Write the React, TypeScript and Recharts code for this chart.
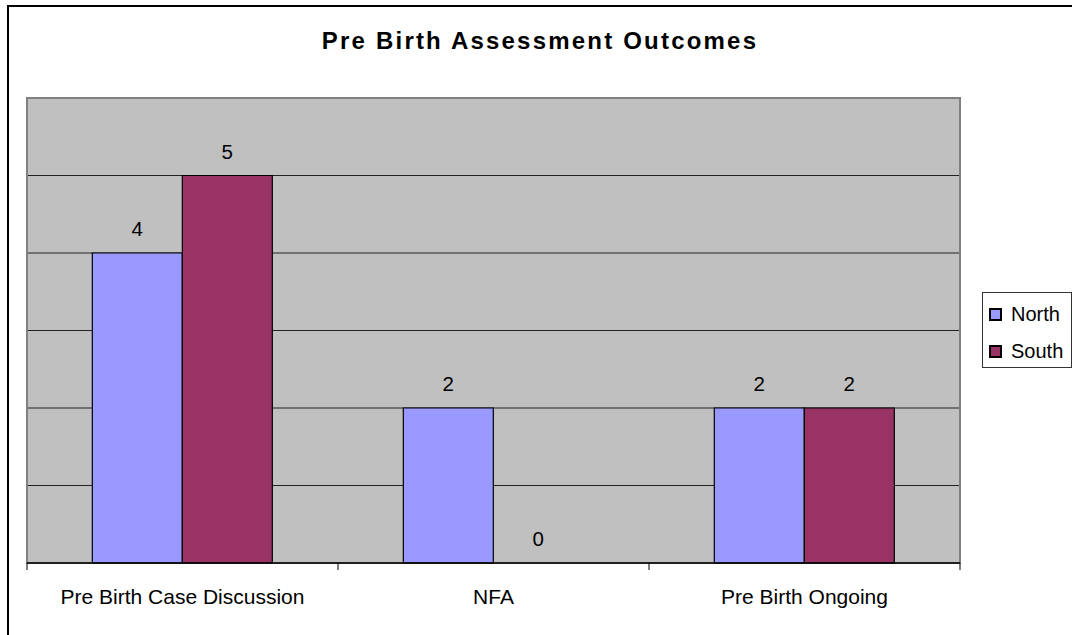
import React from "react";
import { BarChart, Bar, XAxis, YAxis, CartesianGrid, ReferenceArea, Rectangle } from "recharts";

const categories = ["Pre Birth Case Discussion", "NFA", "Pre Birth Ongoing"];
const northValues = [4, 2, 2];
const southValues = [5, 0, 2];
const yTicks = [0, 1, 2, 3, 4, 5, 6];
const seriesNames = ["North", "South"];
const seriesColors = ["#9999FF", "#993366"];
const title = "Pre Birth Assessment Outcomes";

const data = categories.map((c, i) => ({ name: c, North: northValues[i], South: southValues[i] }));

const FONT = "Arial, 'Liberation Sans', sans-serif";

const CategoryTick = (props: any) => {
  const { x, y, payload, index, visibleTicksCount } = props;
  const half = payload && payload.offset ? payload.offset : 155.5;
  const left = x - half;
  const right = x + half;
  return (
    <g>
      <line x1={left} x2={left} y1={y - 7} y2={y} stroke="#000" strokeWidth={1} />
      {index === visibleTicksCount - 1 && (
        <line x1={right} x2={right} y1={y - 7} y2={y} stroke="#000" strokeWidth={1} />
      )}
      <text x={x} y={y + 34} textAnchor="middle" fontFamily={FONT} fontSize={21} fill="#000">
        {payload.value}
      </text>
    </g>
  );
};

const BarWithLabel = (props: any) => {
  const { x, y, width, height, value, fill } = props;
  const v = Array.isArray(value) ? value[1] - value[0] : value;
  return (
    <g>
      {height > 0 && (
        <Rectangle x={x} y={y} width={width} height={height} fill={fill} stroke="#000" strokeWidth={1.2} />
      )}
      <text x={x + width / 2} y={y - 17} textAnchor="middle" fontFamily={FONT} fontSize={20.5} fill="#000">
        {String(v)}
      </text>
    </g>
  );
};

const LegendBox = () => (
  <div
    style={{
      position: "absolute",
      left: 982,
      top: 292,
      width: 90,
      height: 76,
      border: "1px solid #333",
      background: "#fff",
      boxSizing: "border-box",
      fontFamily: FONT,
      fontSize: 20,
      color: "#000",
    }}
  >
    {seriesNames.map((n, i) => (
      <div key={n} style={{ position: "absolute", left: 6, top: i === 0 ? 10 : 47, height: 22, display: "flex", alignItems: "center" }}>
        <div style={{ width: 13, height: 13, background: seriesColors[i], border: "2px solid #000", boxSizing: "border-box", marginRight: 9 }} />
        <span style={{ lineHeight: "22px" }}>{n}</span>
      </div>
    ))}
  </div>
);

export default function App() {
  return (
    <div style={{ position: "absolute", left: 0, top: 0, width: 1072, height: 635, overflow: "hidden", background: "#fff" }}>
      <div
        style={{
          position: "absolute",
          left: 7,
          top: 5,
          width: 1200,
          height: 800,
          borderLeft: "2px solid #000",
          borderTop: "2px solid #000",
        }}
      />
      <div
        style={{
          position: "absolute",
          left: 0,
          top: 27,
          width: 1080,
          textAlign: "center",
          fontFamily: FONT,
          fontWeight: "bold",
          fontSize: 24,
          letterSpacing: 2.2,
          color: "#000",
          lineHeight: "28px",
        }}
      >
        {title}
      </div>
      <div style={{ position: "absolute", left: 0, top: 0 }}>
        <BarChart
          width={1072}
          height={635}
          data={data}
          margin={{ top: 98, right: 112, left: 27, bottom: 12 }}
          barCategoryGap="21%"
          barGap={0}
        >
          <CartesianGrid vertical={false} fill="#C0C0C0" stroke="#222" strokeOpacity={1} />
          <ReferenceArea y1={0} y2={6} fill="none" stroke="#808080" strokeWidth={2} ifOverflow="visible" />
          <YAxis hide domain={[0, 6]} ticks={yTicks} />
          <XAxis
            dataKey="name"
            height={60}
            tickSize={7}
            tickMargin={0}
            tickLine={false}
            axisLine={{ stroke: "#000", strokeWidth: 1.5 }}
            tick={<CategoryTick />}
            interval={0}
          />
          {seriesNames.map((n, i) => (
            <Bar key={n} dataKey={n} fill={seriesColors[i]} isAnimationActive={false} shape={<BarWithLabel />} />
          ))}
        </BarChart>
      </div>
      <LegendBox />
    </div>
  );
}
